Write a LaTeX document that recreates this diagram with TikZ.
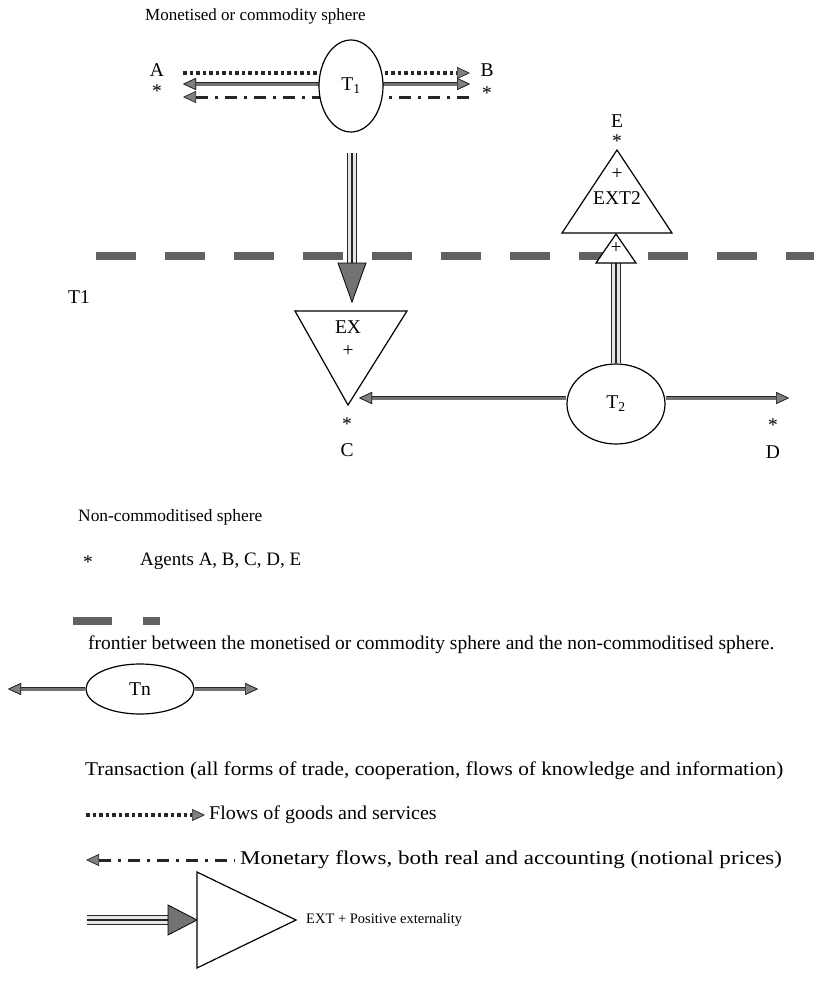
\documentclass[tikz,border=0pt]{standalone}
\usepackage{fontspec}
\setmainfont{Liberation Serif}
\usetikzlibrary{arrows.meta,shapes.geometric}
\begin{document}
\begin{tikzpicture}[x=1pt,y=-1pt,
  txt/.style={font=\fontsize{19.5}{22}\selectfont, inner sep=0pt, anchor=west},
  lab/.style={font=\fontsize{19.5}{22}\selectfont, inner sep=0pt},
  trans/.style={ellipse, draw=black, line width=1.2pt, fill=white, inner sep=0pt, font=\fontsize{19.5}{22}\selectfont},
  gt/.tip={Triangle[length=13pt,width=12pt,fill=black!50,color=black!85,line width=0.7pt]},
  garrow/.style={draw=black!55, line width=3pt, preaction={draw=black!85, line width=4.6pt}},
  dotline/.style={draw=black!85, line width=3.5pt, dash pattern=on 3.5pt off 3pt},
  dashdot/.style={draw=black!85, line width=3pt, dash pattern=on 12pt off 7pt on 3pt off 7pt},
  triple/.style={draw=black!85, line width=10pt, postaction={draw=black!10, line width=7.4pt}, postaction={draw=black!85, line width=1.3pt}},
  headfill/.style={fill=black!55, draw=black, line width=0.8pt},
  tri/.style={draw=black, line width=1.2pt, fill=white},
  frontier/.style={draw=black!62, line width=8.5pt}
]
\useasboundingbox (0,0) rectangle (814,988);

% ---------- top: monetised sphere ----------
\node[txt, font=\fontsize{17}{20}\selectfont] (title) at (145,16) {Monetised or commodity sphere};
\node[lab] (A) at (157,70) {A};
\node[lab] (Astar) at (157,91) {*};
\node[lab] (B) at (487,70) {B};
\node[lab] (Bstar) at (487,93) {*};

\coordinate (dotL) at (183,73);
\coordinate (dotR) at (470,73);
\coordinate (solL) at (183,84);
\coordinate (solR) at (470,84);
\coordinate (ddL) at (183,97);
\coordinate (ddR) at (470,97);
\draw[dotline, -gt] (dotL) -- (dotR);
\draw[garrow, gt-gt] (solL) -- (solR);
\draw[dashdot, gt-] (ddL) -- (ddR);

\node[trans, minimum width=64pt, minimum height=92pt] (T1) at (351,86) {T\textsubscript{1}};

% frontier
\draw[frontier, dash pattern=on 40pt off 29pt] (96,256) -- (814,256);
\node[txt] (T1lab) at (68,297) {T1};

% down arrow T1 -> EX
\coordinate (dnTop) at (352,153);
\coordinate (dnHead) at (352,265);
\draw[triple] (dnTop) -- (dnHead);
\draw[headfill] (338,263) -- (366,263) -- (352,302) -- cycle;

% EX triangle
\coordinate (exL) at (295,311);
\coordinate (exR) at (407,311);
\coordinate (exB) at (348,405);
\draw[tri] (exL) -- (exR) -- (exB) -- cycle;
\node[lab] (EX) at (348,327) {EX};
\node[lab] (EXp) at (348,351) {+};
\node[lab] (Cstar) at (347,424) {*};
\node[lab] (C) at (347,450) {C};

% T2
\node[trans, minimum width=98pt, minimum height=80pt] (T2) at (616,404) {T\textsubscript{2}};
\coordinate (toC) at (359,398);
\coordinate (toD) at (789,398);
\draw[garrow, -gt] (T2.west |- toC) -- (toC);
\draw[garrow, -gt] (T2.east |- toD) -- (toD);
\node[lab] (Dstar) at (773,425) {*};
\node[lab] (D) at (773,452) {D};

% EXT2
\coordinate (upTop) at (616,263);
\draw[triple] (T2.north) -- (upTop);
\draw[tri] (596,263) -- (636,263) -- (616,234) -- cycle;
\node[lab] (smallp) at (616,248) {+};
\draw[tri] (562,233) -- (672,233) -- (617,150) -- cycle;
\node[lab] (EXT2p) at (617,174) {+};
\node[lab] (EXT2) at (617,198) {EXT2};
\node[lab] (Estar) at (617,141) {*};
\node[lab] (E) at (617,121) {E};

% ---------- legend ----------
\node[txt, font=\fontsize{17.4}{20}\selectfont] (nonc) at (78,517) {Non-commoditised sphere};
\node[lab] (agstar) at (88,562) {*};
\node[txt, font=\fontsize{19}{22}\selectfont] (agents) at (140,561) {Agents A, B, C, D, E};

\draw[frontier] (73,621) -- (112,621);
\draw[frontier] (143,621) -- (160,621);
\node[txt] (frontier) at (88,645) {frontier between the monetised or commodity sphere and the non-commoditised sphere.};

\node[trans, minimum width=108pt, minimum height=50pt] (Tn) at (140,689) {Tn};
\coordinate (TnL) at (8,689);
\coordinate (TnR) at (258,689);
\draw[garrow, -gt] (Tn.west) -- (TnL);
\draw[garrow, -gt] (Tn.east) -- (TnR);

\node[txt, font=\fontsize{19.5}{22}\selectfont\addfontfeatures{FakeStretch=1.09}] (transaction) at (85,771) {Transaction (all forms of trade, cooperation, flows of knowledge and information)};

\coordinate (gL) at (86,815);
\coordinate (gR) at (205,815);
\draw[dotline, -gt] (gL) -- (gR);
\node[txt, font=\fontsize{19.5}{22}\selectfont\addfontfeatures{FakeStretch=1.03}] (goods) at (209,815) {Flows of goods and services};

\coordinate (mL) at (86,860);
\coordinate (mR) at (234,860);
\draw[dashdot, gt-] (mL) -- (mR);
\node[txt, font=\fontsize{19.5}{22}\selectfont\addfontfeatures{FakeStretch=1.18}] (money) at (240,860) {Monetary flows, both real and accounting (notional prices)};

\coordinate (eL) at (87,920);
\coordinate (eH) at (169,920);
\draw[triple] (eL) -- (eH);
\draw[headfill] (168,905) -- (197,920) -- (168,935) -- cycle;
\draw[tri] (197,872) -- (296,920) -- (197,968) -- cycle;
\node[txt, font=\fontsize{14.5}{17}\selectfont] (ext) at (306,920) {EXT + Positive externality};
\end{tikzpicture}
\end{document}
